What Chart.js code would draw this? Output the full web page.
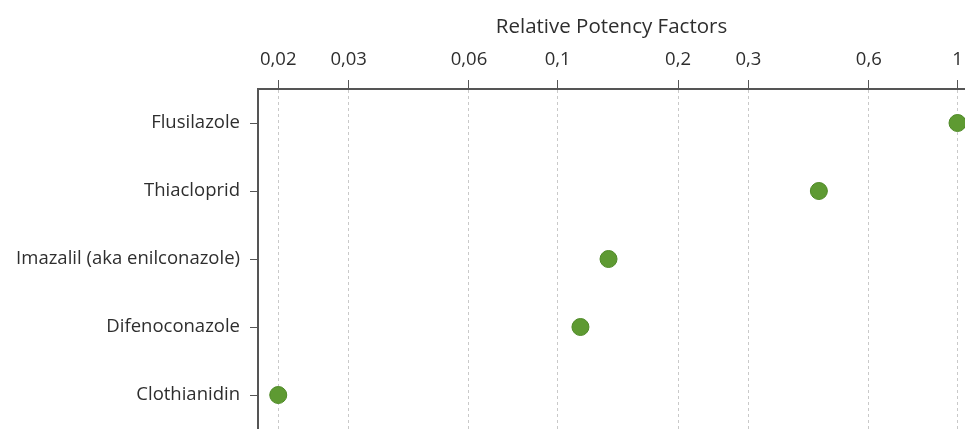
<!DOCTYPE html>
<html>
<head>
<meta charset="utf-8">
<script src="https://cdn.jsdelivr.net/npm/chart.js@4/dist/chart.umd.min.js"></script>
<style>
  body { margin: 0; background: #fff; overflow: hidden; }
</style>
</head>
<body>
<canvas id="chart" width="965" height="429"></canvas>
<script>
const compounds = ['Flusilazole', 'Thiacloprid', 'Imazalil (aka enilconazole)', 'Difenoconazole', 'Clothianidin'];
const potency = [1, 0.45, 0.134, 0.114, 0.02];
const tickValues = [0.02, 0.03, 0.06, 0.1, 0.2, 0.3, 0.6, 1];

const fontFamily = '"Open Sans", "Noto Sans", sans-serif';
const textColor = '#2e2e2e';

const points = compounds.map((c, i) => ({ x: potency[i], y: c }));

new Chart(document.getElementById('chart'), {
  type: 'scatter',
  data: {
    datasets: [{
      data: points,
      backgroundColor: '#5e9a32',
      borderColor: '#4f8a27',
      borderWidth: 1,
      pointRadius: 8.5,
      pointHoverRadius: 8.5,
      clip: false
    }]
  },
  options: {
    responsive: false,
    animation: false,
    layout: { padding: 0, autoPadding: false },
    plugins: {
      legend: { display: false },
      tooltip: { enabled: false }
    },
    scales: {
      x: {
        type: 'logarithmic',
        position: 'top',
        min: 0.0178,
        max: 1.044,
        afterBuildTicks: function(scale) {
          scale.ticks = tickValues.map(v => ({ value: v }));
        },
        afterFit: function(scale) {
          scale.height = 89;
          scale.paddingLeft = 0;
          scale.paddingRight = 0;
        },
        ticks: {
          color: textColor,
          font: { family: fontFamily, size: 18.5 },
          padding: 9,
          maxRotation: 0,
          autoSkip: false,
          callback: function(value) {
            return String(value).replace('.', ',');
          }
        },
        grid: {
          display: true,
          color: '#c9c9c9',
          lineWidth: 1,
          tickColor: '#555',
          tickLength: 9
        },
        border: {
          display: true,
          color: '#555',
          width: 2,
          dash: [3, 3]
        },
        title: {
          display: true,
          text: 'Relative Potency Factors',
          color: textColor,
          font: { family: fontFamily, size: 20.5 },
          padding: { top: 15, bottom: 0 }
        }
      },
      y: {
        type: 'category',
        labels: compounds,
        offset: true,
        afterFit: function(scale) {
          scale.width = 258;
          scale.paddingTop = 0;
          scale.paddingBottom = 0;
        },
        ticks: {
          color: textColor,
          font: { family: fontFamily, size: 18.5 },
          padding: 10
        },
        grid: {
          display: true,
          drawOnChartArea: false,
          tickColor: '#555',
          tickLength: 8
        },
        border: {
          display: true,
          color: '#555',
          width: 2
        }
      }
    }
  }
});
</script>
</body>
</html>
